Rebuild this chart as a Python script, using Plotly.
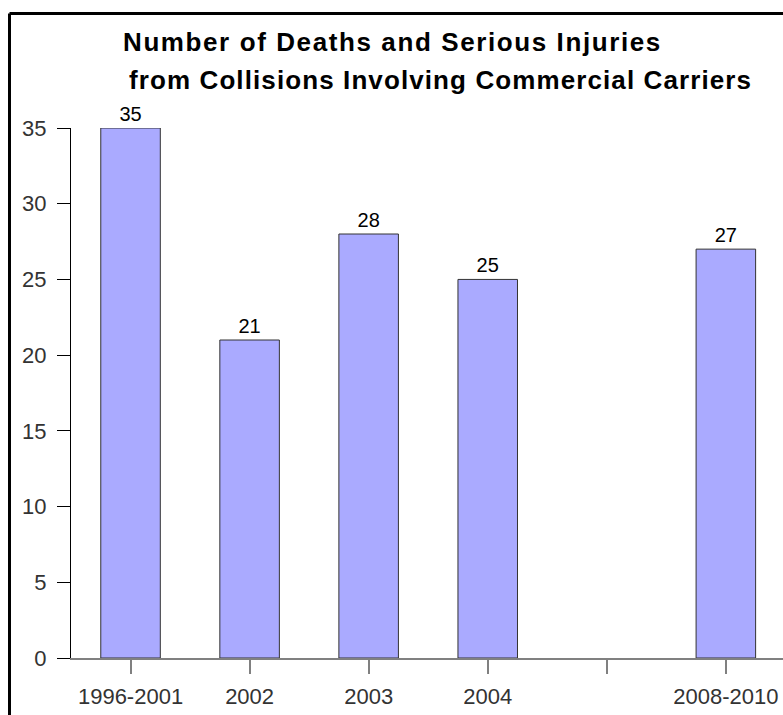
import plotly.graph_objects as go

categories = ["1996-2001", "2002", "2003", "2004", " ", "2008-2010"]
values = [35, 21, 28, 25, None, 27]
y_ticks = [0, 5, 10, 15, 20, 25, 30, 35]
title_line1 = "Number of Deaths and Serious Injuries"
title_line2 = "from Collisions Involving Commercial Carriers"

fig = go.Figure()
fig.add_trace(go.Bar(
    x=categories,
    y=values,
    marker=dict(color="#AAAAFF", line=dict(color="#333333", width=1)),
    text=[("" if v is None else str(v)) for v in values],
    textposition="outside",
    textfont=dict(family="Liberation Sans", size=20, color="black"),
    cliponaxis=False,
    width=0.5,
))

fig.update_layout(
    width=783, height=715,
    margin=dict(l=71, r=0, t=128, b=57),
    plot_bgcolor="white", paper_bgcolor="white",
    showlegend=False,
    font=dict(family="Liberation Sans"),
)
fig.update_xaxes(
    type="category",
    range=[-0.5, 5.48],
    showline=True, linecolor="#808080", linewidth=2,
    ticks="outside", ticklen=14, tickcolor="#808080", tickwidth=2,
    tickfont=dict(size=22, color="#333333"),
    ticklabelstandoff=4,
    showgrid=False,
)
fig.update_yaxes(
    range=[0, 35],
    tickvals=y_ticks,
    showline=True, linecolor="black", linewidth=1,
    ticks="outside", ticklen=13, tickcolor="black", tickwidth=1,
    tickfont=dict(size=22, color="#333333"),
    ticklabelstandoff=6,
    showgrid=False, zeroline=False,
)

def spaced(t, ls):
    return '<b><span style="letter-spacing:' + str(ls) + 'px">' + t + '</span></b>'

fig.add_annotation(text=spaced(title_line1, 1.6), xref="paper", yref="paper",
                   x=(121 - 71) / 712, y=(658 - 42) / 530, xanchor="left", yanchor="middle",
                   showarrow=False, font=dict(size=26, color="black"))
fig.add_annotation(text=spaced(title_line2, 1.1), xref="paper", yref="paper",
                   x=(127 - 71) / 712, y=(658 - 80) / 530, xanchor="left", yanchor="middle",
                   showarrow=False, font=dict(size=26, color="black"))

# frame (top and left edges visible)
fig.add_shape(type="line", xref="paper", yref="paper",
              x0=(9.5 - 71) / 712, x1=1.2, y0=(658 - 13.5) / 530, y1=(658 - 13.5) / 530,
              line=dict(color="black", width=3))
fig.add_shape(type="line", xref="paper", yref="paper",
              x0=(9.5 - 71) / 712, x1=(9.5 - 71) / 712, y0=(658 - 13.5) / 530, y1=-0.3,
              line=dict(color="black", width=3))

fig.write_html("out.html", config={"displayModeBar": False},
               post_script="document.body.style.margin='0';")
